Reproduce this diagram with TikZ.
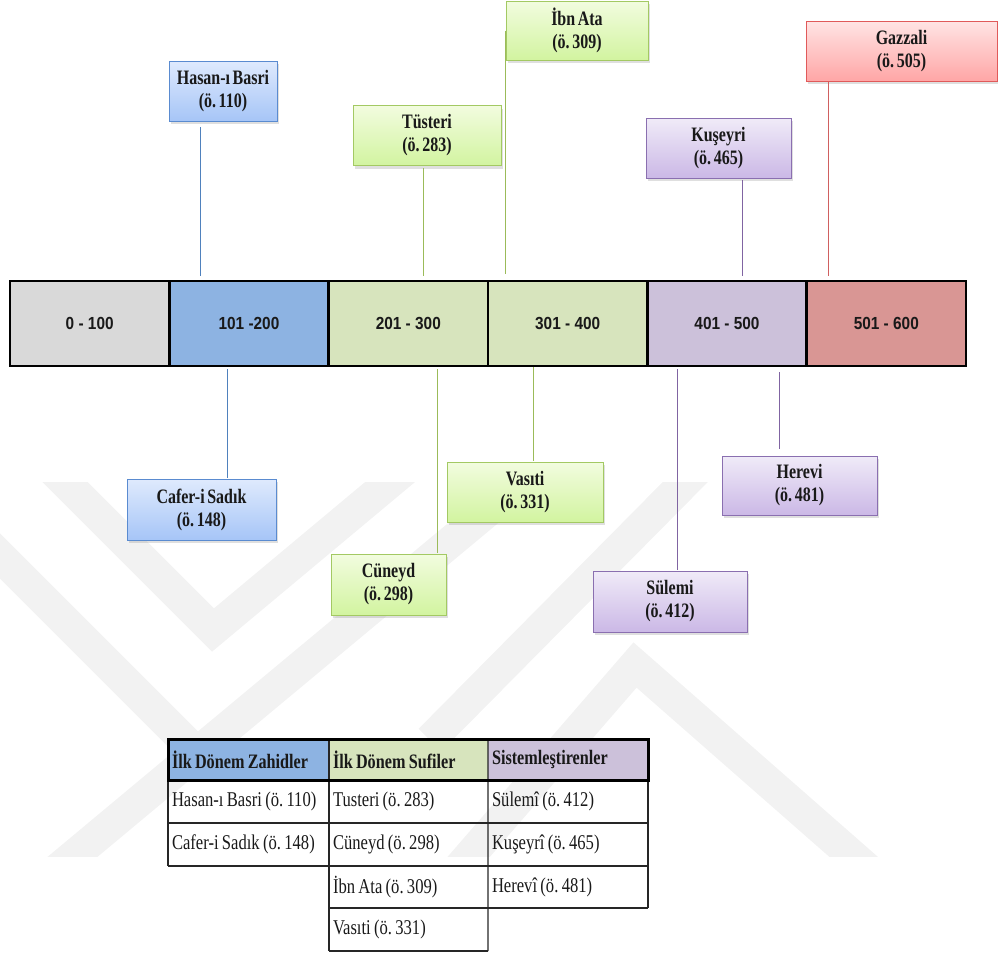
\documentclass[tikz,border=0pt]{standalone}
\usepackage{fontspec}
\setmainfont{Liberation Serif}
\newfontfamily\boxfont{Liberation Serif}[FakeStretch=0.78, WordSpace=0.65]
\newfontfamily\tabfont{Liberation Serif}[FakeStretch=0.79, WordSpace=0.8]
\newfontfamily\barfont{Liberation Sans}[FakeStretch=0.88]
\usetikzlibrary{shadows,calc}

% period cell fills
\definecolor{pGray}{HTML}{D9D9D9}
\definecolor{pBlue}{HTML}{8DB3E2}
\definecolor{pGreen}{HTML}{D7E4BD}
\definecolor{pLilac}{HTML}{CCC1DA}
\definecolor{pRose}{HTML}{D99694}
% connector colours
\definecolor{lBlue}{HTML}{4F81BD}
\definecolor{lGreen}{HTML}{9BBB59}
\definecolor{lLilac}{HTML}{8064A2}
\definecolor{lRed}{HTML}{D06060}
% name box borders and gradients
\definecolor{bBlue}{HTML}{5A8BD0}
\definecolor{bGreen}{HTML}{A3C963}
\definecolor{bLilac}{HTML}{8A6FB0}
\definecolor{bRed}{HTML}{E05A5A}
\definecolor{tBlue}{HTML}{DFEAFD}
\definecolor{uBlue}{HTML}{A6C5F7}
\definecolor{tGreen}{HTML}{F2FCDF}
\definecolor{uGreen}{HTML}{D2F4A0}
\definecolor{tLilac}{HTML}{F0EBF8}
\definecolor{uLilac}{HTML}{CBB8E6}
\definecolor{tRed}{HTML}{FFE4E4}
\definecolor{uRed}{HTML}{FFA6A6}

\begin{document}
\frenchspacing
\begin{tikzpicture}[x=1bp,y=-1bp,
  period/.style={draw=black, line width=2.5bp, fill=#1, minimum width=159.3bp,
    minimum height=85bp, inner sep=0pt,
    font={\barfont\bfseries\fontsize{17.5bp}{20bp}\selectfont}, text=black!90},
  namebox/.style={line width=0.9bp, inner sep=0pt, align=center,
    font={\boxfont\bfseries\fontsize{20.5bp}{23bp}\selectfont}, text=black!90,
    drop shadow={shadow xshift=2bp, shadow yshift=-3bp, opacity=0.25}},
  bluebox/.style={namebox, draw=bBlue, top color=tBlue, bottom color=uBlue},
  greenbox/.style={namebox, draw=bGreen, top color=tGreen, bottom color=uGreen},
  lilacbox/.style={namebox, draw=bLilac, top color=tLilac, bottom color=uLilac},
  redbox/.style={namebox, draw=bRed, top color=tRed, bottom color=uRed},
  link/.style={line width=0.8bp, draw=#1},
  cell/.style={anchor=north west, inner xsep=4bp, inner ysep=0pt, outer sep=0pt,
    align=flush left, font={\tabfont\fontsize{21bp}{23bp}\selectfont}, text=black!90},
  hcell/.style={cell, fill=#1, font={\tabfont\bfseries\fontsize{20.5bp}{23bp}\selectfont}},
  rule/.style={line width=1.1bp, draw=black!85},
  emblem/.style={line width=32bp, draw=black!5, line join=miter}
]
\useasboundingbox (0,0) rectangle (998,956);

% faint background emblem
\begin{scope}
  \clip (0,482) rectangle (998,856);
  \draw[emblem] (40,457) -- (213,630) -- (420,457);
  \draw[emblem] (-30,526) -- (197,753) -- (40,884);
  \draw[emblem] (197,753) -- (555,455);
  \draw[emblem] (715,452) -- (430,740);
  \draw[emblem] (440,890) -- (635,665) -- (880,880);
\end{scope}

% time line
\node[period=pGray]  (c0) at (89.7,323.5)  {0 - 100};
\node[period=pBlue]  (c1) at (249.0,323.5) {101 -200};
\node[period=pGreen] (c2) at (408.3,323.5) {201 - 300};
\node[period=pGreen] (c3) at (567.7,323.5) {301 - 400};
\node[period=pLilac] (c4) at (727.0,323.5) {401 - 500};
\node[period=pRose]  (c5) at (886.3,323.5) {501 - 600};

% names above the line
\node[bluebox, minimum width=108bp, minimum height=60bp] (hasan) at (223,91) {Hasan-ı Basri\\(ö. 110)};
\node[greenbox, minimum width=148bp, minimum height=60bp] (tusteri) at (427,135.5) {Tüsteri\\(ö. 283)};
\node[greenbox, minimum width=142bp, minimum height=59bp] (ibnata) at (577,30.5) {İbn Ata\\(ö. 309)};
\node[lilacbox, minimum width=145bp, minimum height=60bp] (kuseyri) at (718.5,148) {Kuşeyri\\(ö. 465)};
\node[redbox, minimum width=191bp, minimum height=60bp] (gazzali) at (901.5,51) {Gazzali\\(ö. 505)};

% names below the line
\node[bluebox, minimum width=149bp, minimum height=61bp] (cafer) at (201.5,509.5) {Cafer-i Sadık\\(ö. 148)};
\node[greenbox, minimum width=115bp, minimum height=61bp] (cuneyd) at (388.5,584.5) {Cüneyd\\(ö. 298)};
\node[greenbox, minimum width=156bp, minimum height=60bp] (vasiti) at (525,492) {Vasıti\\(ö. 331)};
\node[lilacbox, minimum width=155bp, minimum height=59bp] (herevi) at (799.5,485.5) {Herevi\\(ö. 481)};
\node[lilacbox, minimum width=154bp, minimum height=61bp] (sulemi) at (670,601.5) {Sülemi\\(ö. 412)};

% x positions of the connectors
\coordinate (xHasan) at (200,0);
\coordinate (xTusteri) at (423,0);
\coordinate (xIbn) at (505,0);
\coordinate (xKuseyri) at (742,0);
\coordinate (xGazzali) at (828,0);
\coordinate (xCafer) at (227,0);
\coordinate (xCuneyd) at (437,0);
\coordinate (xVasiti) at (533,0);
\coordinate (xSulemi) at (677,0);
\coordinate (xHerevi) at (779,0);

\draw[link=lBlue]  ($(hasan.south -| xHasan)+(0,6)$) -- ($(c1.north -| xHasan)+(0,-4)$);
\draw[link=lGreen] ($(tusteri.south -| xTusteri)+(0,2)$) -- ($(c2.north -| xTusteri)+(0,-4)$);
\draw[link=lGreen] (ibnata.west -| xIbn) -- ($(c3.north -| xIbn)+(0,-6)$);
\draw[link=lLilac] ($(kuseyri.south -| xKuseyri)+(0,2)$) -- ($(c4.north -| xKuseyri)+(0,-4)$);
\draw[link=lRed]   ($(gazzali.south -| xGazzali)+(0,1)$) -- ($(c5.north -| xGazzali)+(0,-4)$);

\draw[link=lBlue]  ($(c1.south -| xCafer)+(0,2)$) -- ($(cafer.north -| xCafer)+(0,-1)$);
\draw[link=lGreen] ($(c2.south -| xCuneyd)+(0,2)$) -- ($(cuneyd.north -| xCuneyd)+(0,-1)$);
\draw[link=lGreen] ($(c3.south -| xVasiti)+(0,0)$) -- ($(vasiti.north -| xVasiti)+(0,-1)$);
\draw[link=lLilac] ($(c4.south -| xSulemi)+(0,2)$) -- ($(sulemi.north -| xSulemi)+(0,-1)$);
\draw[link=lLilac] ($(c4.south -| xHerevi)+(0,5)$) -- ($(herevi.north -| xHerevi)+(0,-7)$);

% summary table
\node[hcell=pBlue,  text width=153bp, minimum height=41bp] (h1) at (168,739) {İlk Dönem Zahidler};
\node[hcell=pGreen, text width=151bp, minimum height=41bp] (h2) at (329,739) {İlk Dönem Sufiler};
\node[hcell=pLilac, text width=152bp, minimum height=41bp] (h3) at (488,739) {Sistemleştirenler};

\node[cell, text width=153bp, minimum height=43bp] (r1c1) at (168,780) {Hasan-ı Basri (ö. 110)};
\node[cell, text width=151bp, minimum height=43bp] (r1c2) at (329,780) {Tusteri (ö. 283)};
\node[cell, text width=152bp, minimum height=43bp] (r1c3) at (488,780) {Sülemî (ö. 412)};
\node[cell, text width=153bp, minimum height=43bp] (r2c1) at (168,823) {Cafer-i Sadık (ö. 148)};
\node[cell, text width=151bp, minimum height=43bp] (r2c2) at (329,823) {Cüneyd (ö. 298)};
\node[cell, text width=152bp, minimum height=43bp] (r2c3) at (488,823) {Kuşeyrî (ö. 465)};
\node[cell, text width=151bp, minimum height=42bp] (r3c2) at (329,866) {İbn Ata (ö. 309)};
\node[cell, text width=152bp, minimum height=42bp] (r3c3) at (488,866) {Herevî (ö. 481)};
\node[cell, text width=151bp, minimum height=43bp] (r4c2) at (329,908) {Vasıti (ö. 331)};

\draw[rule] (r1c1.south west) -- (r1c3.south east);
\draw[rule] (r2c1.south west) -- (r2c3.south east);
\draw[rule] (r3c2.south west) -- (r3c3.south east);
\draw[rule] (r4c2.south west) -- (r4c2.south east);
\draw[rule] (h1.north west) -- (r2c1.south west);
\draw[rule] (h2.north west) -- (r4c2.south west);
\draw[rule] (h3.north west) -- (r4c2.south east);
\draw[rule] (h3.north east) -- (r3c3.south east);
\draw[line width=3bp] (h1.north west) rectangle (h3.south east);
\end{tikzpicture}
\end{document}
